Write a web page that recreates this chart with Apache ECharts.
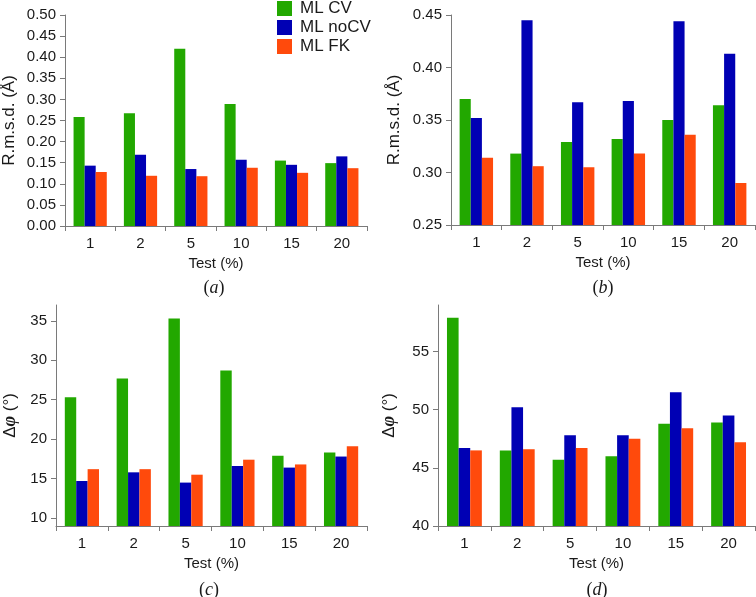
<!DOCTYPE html>
<html>
<head>
<meta charset="utf-8">
<script src="https://cdn.jsdelivr.net/npm/echarts@6/dist/echarts.min.js"></script>
<style>
html,body{margin:0;padding:0;background:#fff;}
#chart{width:756px;height:597px;}
</style>
</head>
<body>
<div id="chart"></div>
<script>
var categories = ['1', '2', '5', '10', '15', '20'];
var seriesNames = ['ML CV', 'ML noCV', 'ML FK'];

// Panel (a): R.m.s.d. (Å)
var aCV   = [0.258, 0.267, 0.420, 0.289, 0.155, 0.149];
var aNoCV = [0.143, 0.169, 0.135, 0.157, 0.145, 0.165];
var aFK   = [0.128, 0.119, 0.118, 0.138, 0.126, 0.137];

// Panel (b): R.m.s.d. (Å)
var bCV   = [0.370, 0.318, 0.329, 0.332, 0.350, 0.364];
var bNoCV = [0.352, 0.445, 0.367, 0.368, 0.444, 0.413];
var bFK   = [0.314, 0.306, 0.305, 0.318, 0.336, 0.290];

// Panel (c): Δφ (°)
var cCV   = [25.3, 27.7, 35.3, 28.7, 17.9, 18.3];
var cNoCV = [14.7, 15.8, 14.5, 16.6, 16.4, 17.8];
var cFK   = [16.2, 16.2, 15.5, 17.4, 16.8, 19.1];

// Panel (d): Δφ (°)
var dCV   = [57.9, 46.5, 45.7, 46.0, 48.8, 48.9];
var dNoCV = [46.7, 50.2, 47.8, 47.8, 51.5, 49.5];
var dFK   = [46.5, 46.6, 46.7, 47.5, 48.4, 47.2];

var colors = ['#22a800', '#0000b4', '#ff4a0c'];
var font = 'Liberation Sans, Arial, sans-serif';
var serif = 'Liberation Serif, Times New Roman, serif';
var axisGray = '#7a7a7a';
var textColor = '#1a1a1a';

var chart = echarts.init(document.getElementById('chart'), null, {renderer: 'canvas'});

var grids = [
  {left: 62, top: 15, width: 305, height: 211},
  {left: 451, top: 15, width: 304, height: 210},
  {left: 50, top: 305, width: 317, height: 221},
  {left: 438, top: 305, width: 317, height: 221}
];

function xAxis(i) {
  return {
    type: 'category', gridIndex: i, data: categories,
    name: 'Test (%)', nameLocation: 'middle', nameGap: 30,
    nameTextStyle: {fontFamily: font, fontSize: 15, color: textColor},
    axisLine: {lineStyle: {color: axisGray, width: 1}},
    axisTick: {show: true, length: 5, lineStyle: {color: axisGray}},
    axisLabel: {fontFamily: font, fontSize: 15, color: textColor, margin: 10},
    splitLine: {show: false}
  };
}

var phiName = 'Δ{i|φ} (°)';
var phiRich = {i: {fontFamily: serif, fontStyle: 'italic', fontWeight: 'bold', fontSize: 18, color: textColor}};

function yAxis(i, opts) {
  var base = {
    type: 'value', gridIndex: i,
    nameLocation: 'middle',
    nameTextStyle: {fontFamily: font, fontSize: 17, color: textColor},
    axisLine: {show: true, lineStyle: {color: axisGray, width: 1}},
    axisTick: {show: true, length: 5, lineStyle: {color: axisGray}},
    axisLabel: {fontFamily: font, fontSize: 15, color: textColor, margin: 9},
    splitLine: {show: false}
  };
  for (var k in opts) base[k] = opts[k];
  return base;
}

function fixed2(v) { return v.toFixed(2); }

var yAxes = [
  yAxis(0, {min: 0, max: 0.5, interval: 0.05, name: 'R.m.s.d. (Å)', nameGap: 47,
    axisLabel: {fontFamily: font, fontSize: 15, color: textColor, margin: 9, formatter: fixed2}}),
  yAxis(1, {min: 0.25, max: 0.45, interval: 0.05, name: 'R.m.s.d. (Å)', nameGap: 48,
    axisLabel: {fontFamily: font, fontSize: 15, color: textColor, margin: 9, formatter: fixed2}}),
  yAxis(2, {min: 9, max: 37, splitNumber: 5, name: phiName, nameGap: 37,
    nameTextStyle: {fontFamily: font, fontSize: 17, color: textColor, rich: phiRich},
    axisLabel: {fontFamily: font, fontSize: 15, color: textColor, margin: 9, showMinLabel: false, showMaxLabel: false}}),
  yAxis(3, {min: 40, max: 59, interval: 5, name: phiName, nameGap: 40,
    nameTextStyle: {fontFamily: font, fontSize: 17, color: textColor, rich: phiRich},
    axisLabel: {fontFamily: font, fontSize: 15, color: textColor, margin: 9, showMaxLabel: false}})
];

var panelData = [
  [aCV, aNoCV, aFK],
  [bCV, bNoCV, bFK],
  [cCV, cNoCV, cFK],
  [dCV, dNoCV, dFK]
];

var series = [];
for (var p = 0; p < 4; p++) {
  for (var s = 0; s < 3; s++) {
    series.push({
      type: 'bar', name: seriesNames[s],
      xAxisIndex: p, yAxisIndex: p,
      data: panelData[p][s],
      barGap: '0%', barCategoryGap: '34%',
      itemStyle: {color: colors[s]},
      clip: true,
      animation: false
    });
  }
}

function caption(letter, cx, cy) {
  return {
    type: 'text', x: cx, y: cy,
    style: {
      text: '({i|' + letter + '})',
      align: 'center', verticalAlign: 'middle',
      fontFamily: serif, fontSize: 18, fill: textColor,
      rich: {i: {fontFamily: serif, fontStyle: 'italic', fontSize: 18, fill: textColor}}
    }
  };
}

chart.setOption({
  animation: false,
  backgroundColor: '#ffffff',
  color: colors,
  grid: grids,
  legend: {
    data: seriesNames, orient: 'vertical', left: 277, top: 0, padding: 0,
    itemWidth: 15, itemHeight: 15, itemGap: 2, icon: 'rect',
    textStyle: {fontFamily: font, fontSize: 17, lineHeight: 17, color: textColor, padding: [0, 0, 0, 3]}
  },
  xAxis: [xAxis(0), xAxis(1), xAxis(2), xAxis(3)],
  yAxis: yAxes,
  series: series,
  graphic: [
    caption('a', 214, 288),
    caption('b', 603, 288),
    caption('c', 209, 590),
    caption('d', 597, 590)
  ]
});
</script>
</body>
</html>
